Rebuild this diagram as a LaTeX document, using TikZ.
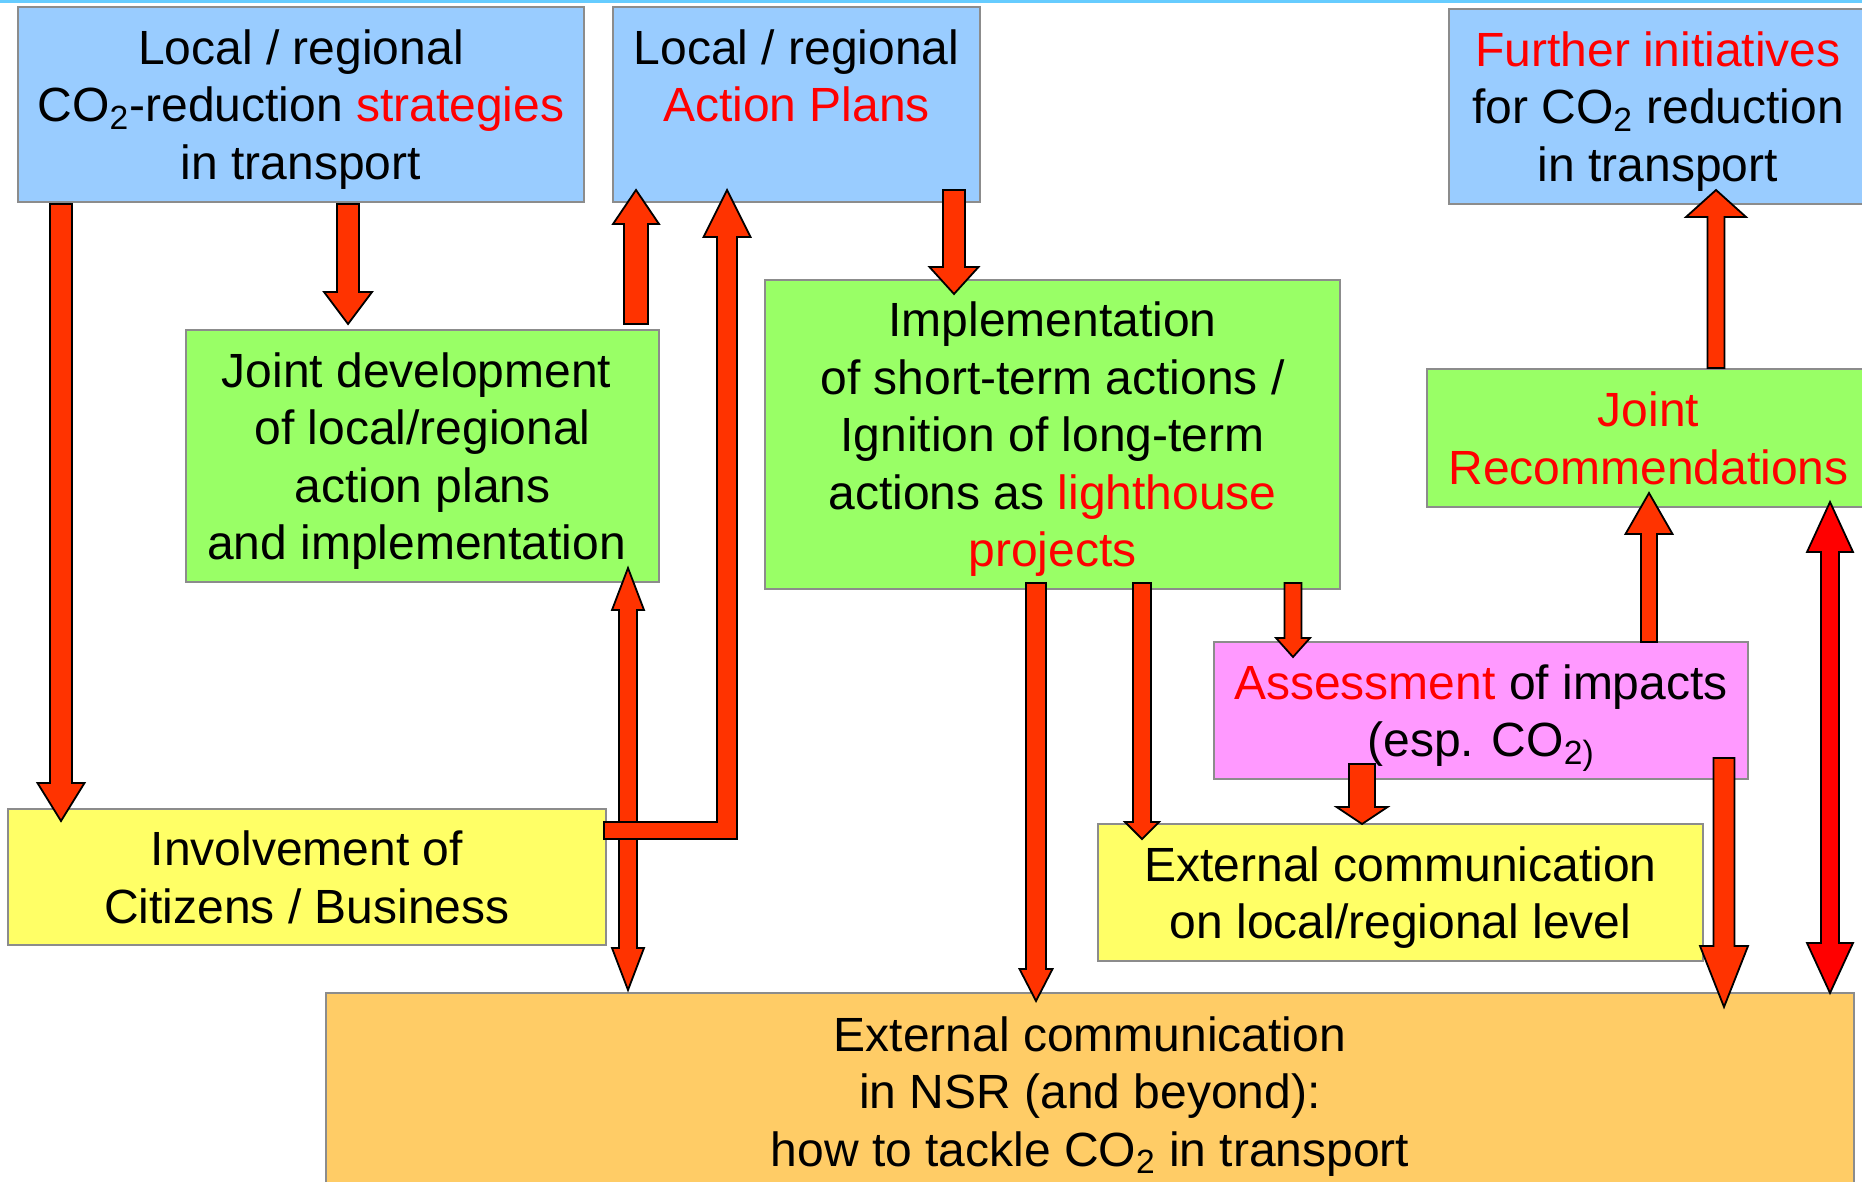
\documentclass[tikz,border=0pt]{standalone}
\usepackage{fontspec}
\setmainfont{Liberation Sans}
\usetikzlibrary{calc}
\definecolor{cblue}{HTML}{99CCFF}
\definecolor{cgreen}{HTML}{99FF66}
\definecolor{cyellow}{HTML}{FFFF66}
\definecolor{cpink}{HTML}{FF99FF}
\definecolor{corange}{HTML}{FFCC66}
\definecolor{arrowred}{HTML}{FF3300}
\definecolor{purered}{HTML}{FF0000}
\definecolor{boxgray}{HTML}{8C8C8C}
\definecolor{topcyan}{HTML}{66CCFF}
\newcommand\hl[1]{\textcolor{purered}{#1}}
\newcommand\lsh{\hspace*{6pt}}
\tikzset{
  box/.style={draw=boxgray, line width=1pt, inner sep=0pt, align=center, text depth=0pt,
    font=\fontsize{24pt}{28.75pt}\selectfont},
  blk/.style={draw=black, line width=0.9pt, fill=arrowred, line join=miter},
  blkred/.style={blk, fill=purered},
}
% vertical block arrow: style, start, tip, half shaft, half head, head length
\newcommand\blockv[6]{\draw[#1] let \p1=(#2), \p2=(#3), \n1={sign(\y2-\y1)} in
  ({\x2-#4},\y1) -- ({\x2-#4},{\y2-(\n1)*#6}) -- ({\x2-#5},{\y2-(\n1)*#6}) -- (\x2,\y2)
  -- ({\x2+#5},{\y2-(\n1)*#6}) -- ({\x2+#4},{\y2-(\n1)*#6}) -- ({\x2+#4},\y1) -- cycle;}
% vertical double block arrow: style, tip1, tip2, half shaft, half head, head length
\newcommand\blockvv[6]{\draw[#1] let \p1=(#2), \p2=(#3), \n1={sign(\y2-\y1)} in
  (\x2,\y1) -- ({\x2+#5},{\y1+(\n1)*#6}) -- ({\x2+#4},{\y1+(\n1)*#6})
  -- ({\x2+#4},{\y2-(\n1)*#6}) -- ({\x2+#5},{\y2-(\n1)*#6}) -- (\x2,\y2)
  -- ({\x2-#5},{\y2-(\n1)*#6}) -- ({\x2-#4},{\y2-(\n1)*#6})
  -- ({\x2-#4},{\y1+(\n1)*#6}) -- ({\x2-#5},{\y1+(\n1)*#6}) -- cycle;}
\begin{document}
\begin{tikzpicture}[x=0.5pt,y=-0.5pt]
\useasboundingbox (0,0) rectangle (1862,1182);
\clip (0,0) rectangle (1862,1182);
\fill[white] (0,0) rectangle (1862,1182);
\fill[topcyan] (0,0) rectangle (1862,3);

% boxes
\node[box, fill=cblue, minimum width=283pt, minimum height=97.5pt] (A) at (301,104.5)
  {Local / regional\\CO\textsubscript{2}-reduction \hl{strategies}\\in transport};
\node[box, fill=cblue, minimum width=183.5pt, minimum height=97.5pt] (B) at (796.5,104.5)
  {Local / regional\\\hl{Action Plans}\\\phantom{in transport}};
\node[box, fill=cblue, minimum width=209pt, minimum height=97.5pt] (C) at (1658,106.5)
  {\hl{Further initiatives}\\for CO\textsubscript{2} reduction\\in transport};
\node[box, fill=cgreen, minimum width=236.5pt, minimum height=126pt] (D) at (422.5,456)
  {Joint development\lsh\\of local/regional\lsh\\action plans\lsh\\and implementation\lsh};
\node[box, fill=cgreen, minimum width=287.5pt, minimum height=154.5pt] (E) at (1052.5,434.5)
  {Implementation\\of short-term actions /\\Ignition of long-term\\actions as \hl{lighthouse}\\\hl{projects}};
\node[box, fill=cgreen, minimum width=221.5pt, minimum height=69pt] (F) at (1648.5,438)
  {\hl{Joint}\\\hl{Recommendations}};
\node[box, fill=cpink, minimum width=267pt, minimum height=68.5pt] (G) at (1481,710.5)
  {\hl{Assessment} of impacts\\(esp. CO\textsubscript{2)}};
\node[box, fill=cyellow, minimum width=299pt, minimum height=68pt] (H) at (307,877)
  {Involvement of\\Citizens / Business};
\node[box, fill=cyellow, minimum width=302.5pt, minimum height=68.5pt] (I) at (1400.5,892.5)
  {External communication\\on local/regional level};
\node[box, fill=corange, minimum width=764pt, minimum height=98.5pt] (J) at (1090,1091.5)
  {External communication\\in NSR (and beyond):\\how to tackle CO\textsubscript{2} in transport};

% connector end points
\coordinate (a1s) at ($(A.south west)+(44,1)$);
\coordinate (a1t) at ($(H.north west)+(54,13)$);
\coordinate (a2s) at ($(A.south west)+(331,1)$);
\coordinate (a2t) at ($(D.north west)+(163,-5)$);
\coordinate (a3s) at ($(D.north east)+(-22,-5)$);
\coordinate (a3t) at ($(B.south west)+(24,-13)$);
\coordinate (Ls)  at ($(H.north east)+(-3,22.5)$);
\coordinate (Lt)  at ($(B.south west)+(115,-13)$);
\coordinate (a5s) at ($(B.south west)+(342,-13)$);
\coordinate (a5t) at ($(E.north west)+(190,15)$);
\coordinate (a6s) at ($(E.south west)+(272,-7)$);
\coordinate (a6t) at ($(J.north west)+(711,9)$);
\coordinate (a7s) at ($(E.south west)+(378,-7)$);
\coordinate (a7t) at ($(I.north west)+(45,16)$);
\coordinate (a8s) at ($(E.south west)+(529,-7)$);
\coordinate (a8t) at ($(G.north west)+(80,16)$);
\coordinate (a9s) at ($(G.south west)+(149,-16)$);
\coordinate (a9t) at ($(I.north west)+(265,1)$);
\coordinate (a10s) at ($(G.south west)+(511,-22)$);
\coordinate (a10t) at ($(J.north west)+(1399,15)$);
\coordinate (a11s) at ($(G.north west)+(436,1)$);
\coordinate (a11t) at ($(F.south west)+(223,-15)$);
\coordinate (a12s) at ($(F.north west)+(290,0)$);
\coordinate (a12t) at ($(C.south west)+(268,-15)$);
\coordinate (d1a) at ($(F.south west)+(404,-6)$);
\coordinate (d1b) at ($(J.north west)+(1505,1)$);
\coordinate (d2a) at ($(D.south west)+(443,-15)$);
\coordinate (d2b) at ($(J.north west)+(303,-2)$);

% arrows
\blockv{blk}{a1s}{a1t}{5.5pt}{11.75pt}{19pt}
\blockv{blk}{a2s}{a2t}{5.5pt}{12pt}{16pt}
\blockv{blk}{a3s}{a3t}{6pt}{11.5pt}{17pt}
\blockv{blk}{a5s}{a5t}{5.5pt}{12.25pt}{13.5pt}
\blockv{blk}{a6s}{a6t}{5pt}{8.25pt}{16pt}
\blockv{blk}{a7s}{a7t}{4.5pt}{8.5pt}{8.5pt}
\blockv{blk}{a8s}{a8t}{4.25pt}{8.5pt}{9.5pt}
\blockv{blk}{a9s}{a9t}{6.5pt}{12.75pt}{8.5pt}
\blockv{blk}{a10s}{a10t}{5.25pt}{12pt}{30.5pt}
\blockv{blk}{a11s}{a11t}{4pt}{11.75pt}{20.5pt}
\blockv{blk}{a12s}{a12t}{4.25pt}{15pt}{13.5pt}
\blockvv{blkred}{d1a}{d1b}{4.5pt}{11.5pt}{25pt}
\blockvv{blk}{d2a}{d2b}{4.5pt}{8pt}{21pt}
% bent arrow from Involvement up to Action Plans
\draw[blk] let \p1=(Ls), \p2=(Lt) in
  (\x1,{\y1+4.25pt}) -- ({\x2-5pt},{\y1+4.25pt}) -- ({\x2-5pt},{\y2-23.5pt})
  -- ({\x2-11.75pt},{\y2-23.5pt}) -- (\x2,\y2) -- ({\x2+11.75pt},{\y2-23.5pt})
  -- ({\x2+5pt},{\y2-23.5pt}) -- ({\x2+5pt},{\y1-4.25pt}) -- (\x1,{\y1-4.25pt}) -- cycle;
\end{tikzpicture}
\end{document}
